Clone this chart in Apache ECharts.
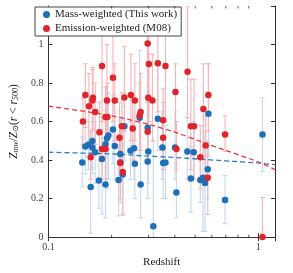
<!DOCTYPE html>
<html><head><meta charset="utf-8">
<script src="https://cdn.jsdelivr.net/npm/echarts@6/dist/echarts.min.js"></script>
<style>html,body{margin:0;padding:0;background:#fff}#c{width:293px;height:273px}</style>
</head><body><div id="c"></div>
<script>
// ---- Mass-weighted (This work)
const blueZ  = [0.145,0.150,0.155,0.162,0.162,0.167,0.159,0.174,0.187,0.180,0.187,0.190,0.193,0.203,0.207,0.216,0.220,0.220,0.226,0.246,0.256,0.258,0.275,0.297,0.299,0.297,0.316,0.230,0.272,0.332,0.349,0.352,0.361,0.401,0.407,0.459,0.492,0.477,0.529,0.545,0.557,0.574,0.578,0.694,1.046];
const blueV  = [0.388,0.470,0.479,0.499,0.465,0.441,0.260,0.294,0.273,0.405,0.482,0.513,0.527,0.559,0.473,0.296,0.388,0.431,0.325,0.448,0.462,0.381,0.273,0.568,0.445,0.393,0.056,0.576,0.620,0.615,0.465,0.385,0.388,0.465,0.231,0.445,0.440,0.304,0.296,0.308,0.281,0.352,0.641,0.193,0.533];
const blueLo = [0.26,0.33,0.35,0.36,0.33,0.28,0.02,0.15,0.10,0.12,0.30,0.25,0.30,0.38,0.30,0.11,0.18,0.25,0.12,0.30,0.30,0.20,0.10,0.40,0.28,0.20,0.00,0.40,0.42,0.45,0.30,0.20,0.20,0.30,0.10,0.30,0.30,0.13,0.18,0.03,0.03,0.20,0.42,0.07,0.34];
const blueHi = [0.52,0.60,0.60,0.64,0.60,0.60,0.50,0.44,0.44,0.56,0.66,0.78,0.75,0.74,0.65,0.48,0.60,0.61,0.53,0.60,0.62,0.56,0.45,1.15,0.60,0.58,0.50,0.75,0.97,0.90,0.65,0.58,0.58,0.65,0.385,0.62,0.60,0.47,0.42,0.58,0.55,0.50,0.90,0.32,0.725];
// ---- Emission-weighted (M08)
const redZ  = [0.180,0.150,0.156,0.162,0.163,0.167,0.203,0.190,0.207,0.187,0.191,0.146,0.175,0.230,0.224,0.247,0.258,0.275,0.272,0.297,0.301,0.299,0.313,0.252,0.332,0.361,0.460,0.403,0.352,0.578,0.547,0.477,0.494,0.694,0.159,0.180,0.187,0.218,0.220,0.226,0.297,0.352,0.407,0.529,0.561,0.574,1.046];
const redV  = [0.889,0.738,0.680,0.709,0.723,0.650,0.827,0.709,0.709,0.624,0.624,0.600,0.545,0.725,0.576,0.738,0.709,0.650,0.631,1.005,0.899,0.723,0.709,0.564,0.903,0.889,0.858,0.754,0.607,0.738,0.665,0.576,0.576,0.533,0.414,0.458,0.458,0.516,0.385,0.338,0.547,0.516,0.458,0.414,0.475,0.308,0.000];
const redLo = [0.60,0.57,0.50,0.55,0.56,0.48,0.60,0.50,0.50,0.45,0.45,0.48,0.40,0.55,0.40,0.50,0.50,0.45,0.45,0.70,0.60,0.55,0.50,0.40,0.65,0.60,0.62,0.55,0.45,0.55,0.42,0.35,0.30,0.445,0.30,0.30,0.30,0.35,0.20,0.114,0.38,0.35,0.35,0.25,0.30,0.118,0.00];
const redHi = [1.20,0.90,0.85,0.87,0.88,0.80,1.20,1.00,0.90,0.78,0.80,0.72,0.70,0.99,0.75,0.95,0.90,0.85,0.80,1.20,1.15,0.95,0.95,0.72,1.20,1.20,1.20,0.90,0.77,0.90,0.90,0.82,0.82,0.63,0.55,0.62,0.62,0.70,0.55,0.55,0.70,0.70,0.60,0.58,0.63,0.49,0.205];
// ---- dashed trend lines
const blueTrendZ = [0.1,0.2,0.4,0.7,1.0,1.2];
const blueTrendV = [0.441,0.432,0.413,0.396,0.385,0.376];
const redTrendZ  = [0.1,0.2,0.3,0.4,0.55,0.7,1.0,1.2];
const redTrendV  = [0.680,0.630,0.585,0.545,0.490,0.450,0.390,0.350];
// ---- axis ticks
const xMajorTicks = [0.1,1];
const xMinorTicks = [0.2,0.3,0.4,0.5,0.6,0.7,0.8,0.9];
const yTicks = [0,0.2,0.4,0.6,0.8,1.0];

const SERIF = '"Liberation Serif","DejaVu Serif",serif';
const BLUE='#1f6fb6', RED='#e1242b', BLUE_ERR='#c4d8ef', RED_ERR='#f7b3b5';

function errRender(color){
  return function(params, api){
    const x=api.value(0), lo=api.value(1), hi=api.value(2);
    const a=api.coord([x,lo]), b=api.coord([x,hi]);
    const cap=2.2;
    const st={stroke:color,lineWidth:1.1};
    return {type:'group',children:[
      {type:'line',shape:{x1:a[0],y1:a[1],x2:b[0],y2:b[1]},style:st},
      {type:'line',shape:{x1:a[0]-cap,y1:a[1],x2:a[0]+cap,y2:a[1]},style:st},
      {type:'line',shape:{x1:b[0]-cap,y1:b[1],x2:b[0]+cap,y2:b[1]},style:st}
    ]};
  };
}
function minorRender(params, api){
  const z=api.value(0);
  const b=api.coord([z,0]), t=api.coord([z,1.2]);
  const st={stroke:'#333',lineWidth:0.8};
  return {type:'group',children:[
    {type:'line',shape:{x1:b[0],y1:b[1],x2:b[0],y2:b[1]-2.5},style:st},
    {type:'line',shape:{x1:t[0],y1:t[1],x2:t[0],y2:t[1]+2.5},style:st}
  ]};
}

const chart = echarts.init(document.getElementById('c'), null, {renderer:'canvas'});
const axisLine={show:true,lineStyle:{color:'#333',width:1}};
chart.setOption({
  animation:false,
  backgroundColor:'#fff',
  grid:{left:33,right:18,top:6,bottom:33},
  legend:{
    left:35, top:7, orient:'vertical', padding:[2,4,2,8],
    itemWidth:7, itemHeight:7, itemGap:3,
    borderColor:'#444', borderWidth:1, backgroundColor:'#fff',
    textStyle:{fontFamily:SERIF,fontSize:11,color:'#222'},
    data:[{name:'Mass-weighted (This work)',icon:'circle'},{name:'Emission-weighted (M08)',icon:'circle'}]
  },
  xAxis:[{
    type:'log', logBase:10, min:0.1, max:1.2, position:'bottom',
    axisLine, splitLine:{show:false},
    axisTick:{inside:true,length:4,lineStyle:{color:'#333'}},
    axisLabel:{fontFamily:SERIF,fontSize:10,color:'#444',margin:5,
      formatter:v=>xMajorTicks.some(t=>Math.abs(t-v)<1e-9)?String(v):''},
    name:'Redshift', nameLocation:'middle', nameGap:19,
    nameTextStyle:{fontFamily:SERIF,fontSize:11,color:'#222'}
  },{
    type:'log', logBase:10, min:0.1, max:1.2, position:'top',
    axisLine, splitLine:{show:false},
    axisTick:{inside:true,length:4,lineStyle:{color:'#333'}},
    axisLabel:{show:false}
  }],
  yAxis:[{
    type:'value', min:0, max:1.2, interval:0.2, position:'left',
    axisLine, splitLine:{show:false},
    axisTick:{inside:true,length:4,lineStyle:{color:'#333'}},
    axisLabel:{fontFamily:SERIF,fontSize:10,color:'#444',margin:5,showMaxLabel:false,
      formatter:v=>{const t=yTicks.find(q=>Math.abs(q-v)<1e-9);return t===undefined?'':String(+t.toFixed(1));}},
    name:'{i|Z}{s|mw}{n|/}{i|Z}{s|⊙}{n|(}{i|r}{n| < }{i|r}{s|500}{n|)}',
    nameLocation:'middle', nameRotate:90, nameGap:20,
    nameTextStyle:{fontFamily:SERIF,fontSize:11,color:'#222',
      rich:{
        i:{fontFamily:SERIF,fontStyle:'italic',fontSize:11.5,color:'#222',verticalAlign:'bottom',lineHeight:14},
        n:{fontFamily:SERIF,fontSize:11.5,color:'#222',verticalAlign:'bottom',lineHeight:14},
        s:{fontFamily:SERIF,fontStyle:'italic',fontSize:8,color:'#222',verticalAlign:'bottom',lineHeight:10}
      }}
  },{
    type:'value', min:0, max:1.2, interval:0.2, position:'right',
    axisLine, splitLine:{show:false},
    axisTick:{inside:true,length:4,lineStyle:{color:'#333'}},
    axisLabel:{show:false}
  }],
  series:[
    {type:'custom',name:'blueErr',renderItem:errRender(BLUE_ERR),clip:true,silent:true,z:1,
      data:blueZ.map((z,i)=>[z,blueLo[i],blueHi[i]])},
    {type:'custom',name:'redErr',renderItem:errRender(RED_ERR),clip:true,silent:true,z:1,
      data:redZ.map((z,i)=>[z,redLo[i],redHi[i]])},
    {type:'line',name:'blueTrend',data:blueTrendZ.map((z,i)=>[z,blueTrendV[i]]),showSymbol:false,symbol:'none',
      lineStyle:{color:'#2f7dbd',width:1.3,type:[5,3]},z:2,silent:true},
    {type:'line',name:'redTrend',data:redTrendZ.map((z,i)=>[z,redTrendV[i]]),showSymbol:false,symbol:'none',smooth:0.3,
      lineStyle:{color:'#e03a40',width:1.3,type:[5,3]},z:2,silent:true},
    {type:'scatter',name:'Mass-weighted (This work)',data:blueZ.map((z,i)=>[z,blueV[i]]),
      symbol:'circle',symbolSize:6.5,itemStyle:{color:BLUE,opacity:1},z:3},
    {type:'scatter',name:'Emission-weighted (M08)',data:redZ.map((z,i)=>[z,redV[i]]),
      symbol:'circle',symbolSize:6.5,itemStyle:{color:RED,opacity:1},z:4},
    {type:'custom',name:'minorTicks',renderItem:minorRender,clip:false,silent:true,z:5,
      data:xMinorTicks.map(z=>[z])}
  ]
});
</script></body></html>
